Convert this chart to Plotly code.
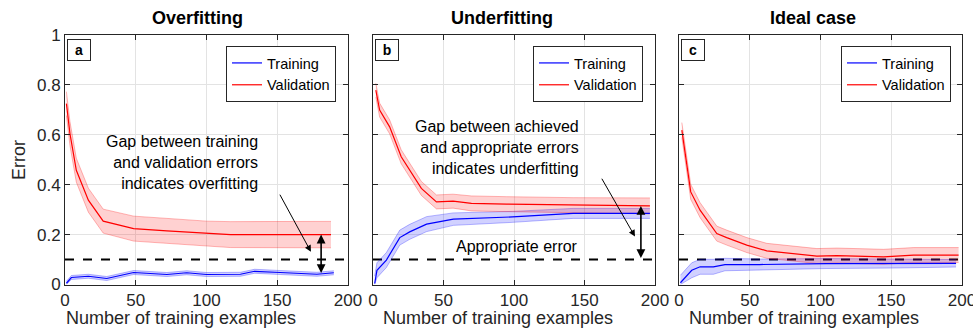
import plotly.graph_objects as go

W, H = 973, 331
FONT = "Liberation Sans, Arial, Helvetica, sans-serif"
AXIS_COLOR = "#262626"
GRID_COLOR = "#e3e3e3"

# ---- data -------------------------------------------------------------
appropriate_error = 0.1
x_ticks = [0, 50, 100, 150, 200]
y_ticks = [0, 0.2, 0.4, 0.6, 0.8, 1]
y_tick_labels = ["0", "0.2", "0.4", "0.6", "0.8", "1"]
panel_titles = ["Overfitting", "Underfitting", "Ideal case"]
panel_letters = ["a", "b", "c"]

# (a) overfitting
a_train_x = [1, 4.5, 16.5, 29.5, 48.5, 72, 86, 100, 124, 134, 152, 178, 190]
a_train_y = [0.005, 0.028, 0.033, 0.024, 0.048, 0.040, 0.047, 0.040, 0.041, 0.053, 0.048, 0.041, 0.047]
a_train_sd = [0.008] * 13
a_val_x = [1, 3.5, 8, 16.5, 27, 48.5, 72, 100, 117, 188]
a_val_y = [0.725, 0.605, 0.458, 0.338, 0.254, 0.224, 0.215, 0.204, 0.200, 0.200]
a_val_sd = [0.048, 0.048, 0.048, 0.048, 0.048, 0.05, 0.05, 0.05, 0.052, 0.053]

# (b) underfitting
b_train_x = [1.2, 2.8, 9.5, 19, 26, 38, 57, 99, 142, 196.4]
b_train_y = [0.004, 0.057, 0.098, 0.188, 0.211, 0.242, 0.262, 0.271, 0.285, 0.285]
b_train_sd = [0.03, 0.03, 0.03, 0.03, 0.03, 0.03, 0.025, 0.022, 0.02, 0.02]
b_val_x = [2, 4.7, 11.8, 20, 34.3, 45, 56.8, 69.8, 94.7, 142, 196.4]
b_val_y = [0.779, 0.699, 0.632, 0.512, 0.385, 0.331, 0.334, 0.325, 0.322, 0.318, 0.315]
b_val_sd = [0.028, 0.028, 0.028, 0.028, 0.028, 0.028, 0.028, 0.03, 0.03, 0.03, 0.032]

# (c) ideal case
c_train_x = [1, 9, 14.9, 24.3, 32.5, 57, 104, 151.7, 195.8]
c_train_y = [0.007, 0.057, 0.071, 0.071, 0.08, 0.08, 0.084, 0.084, 0.085]
c_train_sd = [0.03, 0.03, 0.03, 0.03, 0.025, 0.022, 0.02, 0.018, 0.015]
c_val_x = [2, 8.3, 14.9, 26.7, 33.7, 47.9, 62, 81, 97.4, 111.6, 144.6, 165.8, 197.6]
c_val_y = [0.619, 0.371, 0.298, 0.204, 0.188, 0.158, 0.135, 0.124, 0.114, 0.116, 0.111, 0.118, 0.118]
c_val_sd = [0.03] * 13

panels = [
    (a_train_x, a_train_y, a_train_sd, a_val_x, a_val_y, a_val_sd),
    (b_train_x, b_train_y, b_train_sd, b_val_x, b_val_y, b_val_sd),
    (c_train_x, c_train_y, c_train_sd, c_val_x, c_val_y, c_val_sd),
]

# ---- layout geometry (pixels) -----------------------------------------
x_dom_px = [(65, 348), (373, 655), (679, 962)]
y_top_px, y_bot_px = 35, 284.5
title_cx_px = [197, 502, 813]
xtitle_cx_px = [181, 498, 804]
legend_right_px = [336, 643, 951]


def px(x):
    return x / W


def py(y):
    return 1 - y / H


fig = go.Figure()

styles = {
    "Training": dict(line="#0000ff", band="rgba(0,0,255,0.18)", edge="rgba(0,0,255,0.28)"),
    "Validation": dict(line="#ff0000", band="rgba(255,0,0,0.18)", edge="rgba(255,0,0,0.28)"),
}

for i, (tx, ty, tsd, vx, vy, vsd) in enumerate(panels):
    sfx = "" if i == 0 else str(i + 1)
    xa, ya = "x" + sfx, "y" + sfx
    leg = "legend" + sfx

    # appropriate-error reference line
    fig.add_trace(go.Scatter(
        x=[x_ticks[0], x_ticks[-1]], y=[appropriate_error, appropriate_error],
        mode="lines", line=dict(color="black", width=2, dash="dash"),
        xaxis=xa, yaxis=ya, showlegend=False, hoverinfo="skip"))

    for name, xs, ys, sds in (("Training", tx, ty, tsd), ("Validation", vx, vy, vsd)):
        st = styles[name]
        upper = [y + s for y, s in zip(ys, sds)]
        lower = [max(y - s, 0) for y, s in zip(ys, sds)]
        fig.add_trace(go.Scatter(
            x=xs, y=upper, mode="lines", line=dict(color=st["edge"], width=1),
            xaxis=xa, yaxis=ya, showlegend=False, hoverinfo="skip"))
        fig.add_trace(go.Scatter(
            x=xs, y=lower, mode="lines", line=dict(color=st["edge"], width=1),
            fill="tonexty", fillcolor=st["band"],
            xaxis=xa, yaxis=ya, showlegend=False, hoverinfo="skip"))

    for name, xs, ys in (("Training", tx, ty), ("Validation", vx, vy)):
        fig.add_trace(go.Scatter(
            x=xs, y=ys, mode="lines", name=name,
            line=dict(color=styles[name]["line"], width=1.2),
            xaxis=xa, yaxis=ya, legend=leg, showlegend=True))

axis_common = dict(
    showline=True, linecolor=AXIS_COLOR, linewidth=1, mirror="ticks",
    ticks="inside", ticklen=5, tickcolor=AXIS_COLOR,
    showgrid=True, gridcolor=GRID_COLOR, zeroline=False, automargin=False,
    ticklabeloverflow="allow",
    tickfont=dict(family=FONT, size=17, color=AXIS_COLOR),
)

layout = dict(
    width=W, height=H, margin=dict(l=0, r=0, t=0, b=0, autoexpand=False),
    paper_bgcolor="white", plot_bgcolor="white",
    font=dict(family=FONT, color="black"),
)

annotations = []
for i in range(3):
    sfx = "" if i == 0 else str(i + 1)
    x0, x1 = x_dom_px[i]
    layout["xaxis" + sfx] = dict(
        axis_common, domain=[px(x0), px(x1)], range=[0, 200],
        tickvals=x_ticks, anchor="y" + sfx)
    layout["yaxis" + sfx] = dict(
        axis_common, domain=[py(y_bot_px), py(y_top_px)], range=[0, 1],
        tickvals=y_ticks, ticktext=y_tick_labels, showticklabels=(i == 0),
        anchor="x" + sfx)
    layout["legend" + sfx] = dict(
        x=px(legend_right_px[i]), xanchor="right",
        y=py(46), yanchor="top", traceorder="normal",
        bgcolor="white", bordercolor=AXIS_COLOR, borderwidth=1,
        font=dict(family=FONT, size=14.5, color="black"),
        tracegroupgap=0, itemwidth=30)
    # panel title
    annotations.append(dict(
        text="<b>%s</b>" % panel_titles[i], x=px(title_cx_px[i]), y=py(18),
        xref="paper", yref="paper", showarrow=False, xanchor="center", yanchor="middle",
        font=dict(family=FONT, size=18, color="black")))
    # panel letter box
    annotations.append(dict(
        text="<b>%s</b>" % panel_letters[i], x=px(x0 + 2), y=py(39),
        xref="paper", yref="paper", showarrow=False, xanchor="left", yanchor="top",
        width=20, height=18, borderpad=1, bordercolor=AXIS_COLOR, borderwidth=1,
        bgcolor="white", font=dict(family=FONT, size=14, color="black")))
    # x-axis title
    annotations.append(dict(
        text="Number of training examples", x=px(xtitle_cx_px[i]), y=py(307),
        xref="paper", yref="paper", showarrow=False, xanchor="center", yanchor="top",
        borderpad=0, font=dict(family=FONT, size=18, color=AXIS_COLOR)))

# y-axis title
annotations.append(dict(
    text="Error", x=px(19), y=py(160), xref="paper", yref="paper",
    showarrow=False, textangle=-90, xanchor="center", yanchor="middle",
    font=dict(family=FONT, size=18, color=AXIS_COLOR)))

# explanatory notes and arrows
note_font = dict(family=FONT, size=16, color="black")
annotations += [
    dict(text="Gap between training<br>and validation errors<br>indicates overfitting",
         x=138, y=0.487, xref="x", yref="y", showarrow=False, align="right",
         xanchor="right", yanchor="middle", font=note_font),
    dict(text="", x=173.8, y=0.131, ax=151.3, ay=0.366, xref="x", yref="y",
         axref="x", ayref="y", showarrow=True, arrowhead=2, arrowsize=1.3,
         arrowwidth=1, arrowcolor="black"),
    dict(text="", x=181, y=a_val_y[-1], ax=181, ay=0.04, xref="x", yref="y",
         axref="x", ayref="y", showarrow=True, arrowhead=2, arrowside="end+start",
         arrowsize=1.1, arrowwidth=1.6, arrowcolor="black"),
    dict(text="Gap between achieved<br>and appropriate errors<br>indicates underfitting",
         x=147.5, y=0.549, xref="x2", yref="y2", showarrow=False, align="right",
         xanchor="right", yanchor="middle", font=note_font),
    dict(text="Appropriate error", x=102, y=0.151, xref="x2", yref="y2",
         showarrow=False, xanchor="center", yanchor="middle", font=note_font),
    dict(text="", x=185.8, y=0.192, ax=161.7, ay=0.43, xref="x2", yref="y2",
         axref="x2", ayref="y2", showarrow=True, arrowhead=2, arrowsize=1.3,
         arrowwidth=1, arrowcolor="black"),
    dict(text="", x=190, y=b_val_y[-1], ax=190, ay=appropriate_error, xref="x2", yref="y2",
         axref="x2", ayref="y2", showarrow=True, arrowhead=2, arrowside="end+start",
         arrowsize=1.1, arrowwidth=1.6, arrowcolor="black"),
]
layout["annotations"] = annotations

fig.update_layout(**layout)
# page body without default margin so the figure fills the window exactly
fig.write_html("out.html", post_script="document.body.style.margin='0';document.body.style.overflow='hidden';")
